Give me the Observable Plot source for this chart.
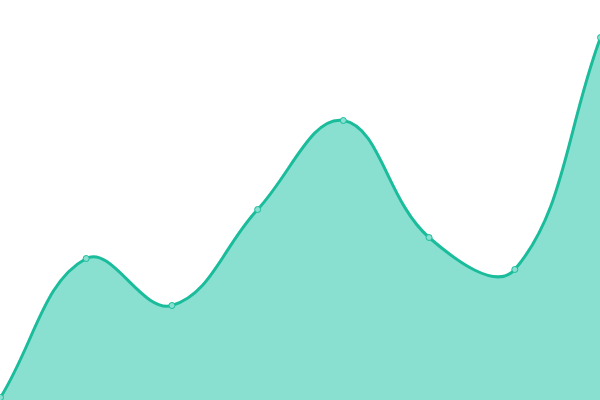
<!DOCTYPE html>
<html>
<head>
<meta charset="utf-8">
<style>
  html, body { margin: 0; padding: 0; background: #fff; }
  svg { display: block; }
</style>
<script src="https://cdn.jsdelivr.net/npm/d3@7"></script>
<script src="https://cdn.jsdelivr.net/npm/@observablehq/plot@0.6"></script>
</head>
<body>
<div id="chart"></div>
<script>
const xs = [0, 1, 2, 3, 4, 5, 6, 7];
const values = [3, 142, 95, 191, 280, 163, 131, 363];

const data = xs.map((x, i) => ({x, v: values[i]}));

const stroke = "#1abc9c";
const fill = "#8ae0d0";

// Spline curve with distance-weighted control points (tension 0.4)
function splineCurve(tension) {
  return function(context) {
    return {
      _line: NaN,
      _pts: [],
      areaStart() { this._line = 0; },
      areaEnd() { this._line = NaN; },
      lineStart() { this._pts = []; },
      point(x, y) { this._pts.push([+x, +y]); },
      lineEnd() {
        const p = this._pts, n = p.length;
        if (n) {
          if (this._line) context.lineTo(p[0][0], p[0][1]);
          else context.moveTo(p[0][0], p[0][1]);
          const cpPrev = [], cpNext = [];
          for (let i = 0; i < n; ++i) {
            const prev = p[i - 1] || p[i], cur = p[i], next = p[i + 1] || p[i];
            const d01 = Math.hypot(cur[0] - prev[0], cur[1] - prev[1]);
            const d12 = Math.hypot(next[0] - cur[0], next[1] - cur[1]);
            let s01 = d01 / (d01 + d12), s12 = d12 / (d01 + d12);
            if (isNaN(s01)) s01 = 0;
            if (isNaN(s12)) s12 = 0;
            const fa = tension * s01, fb = tension * s12;
            cpPrev.push([cur[0] - fa * (next[0] - prev[0]), cur[1] - fa * (next[1] - prev[1])]);
            cpNext.push([cur[0] + fb * (next[0] - prev[0]), cur[1] + fb * (next[1] - prev[1])]);
          }
          for (let i = 0; i < n - 1; ++i) {
            context.bezierCurveTo(cpNext[i][0], cpNext[i][1], cpPrev[i + 1][0], cpPrev[i + 1][1], p[i + 1][0], p[i + 1][1]);
          }
        }
        if (this._line || (this._line !== 0 && n === 1)) context.closePath();
        this._line = 1 - this._line;
      }
    };
  };
}

const curve = splineCurve(0.4);

const chart = Plot.plot({
  width: 600,
  height: 400,
  margin: 0,
  x: {domain: [0, 7], range: [0, 600], axis: null},
  y: {domain: [0, 400], range: [400, 0], axis: null},
  marks: [
    Plot.areaY(data, {x: "x", y: "v", curve, fill: fill}),
    Plot.lineY(data, {x: "x", y: "v", curve, stroke: stroke, strokeWidth: 3}),
    Plot.dot(data, {x: "x", y: "v", r: 3, fill: fill, stroke: stroke, strokeWidth: 1})
  ]
});
document.getElementById("chart").appendChild(chart);
</script>
</body>
</html>
